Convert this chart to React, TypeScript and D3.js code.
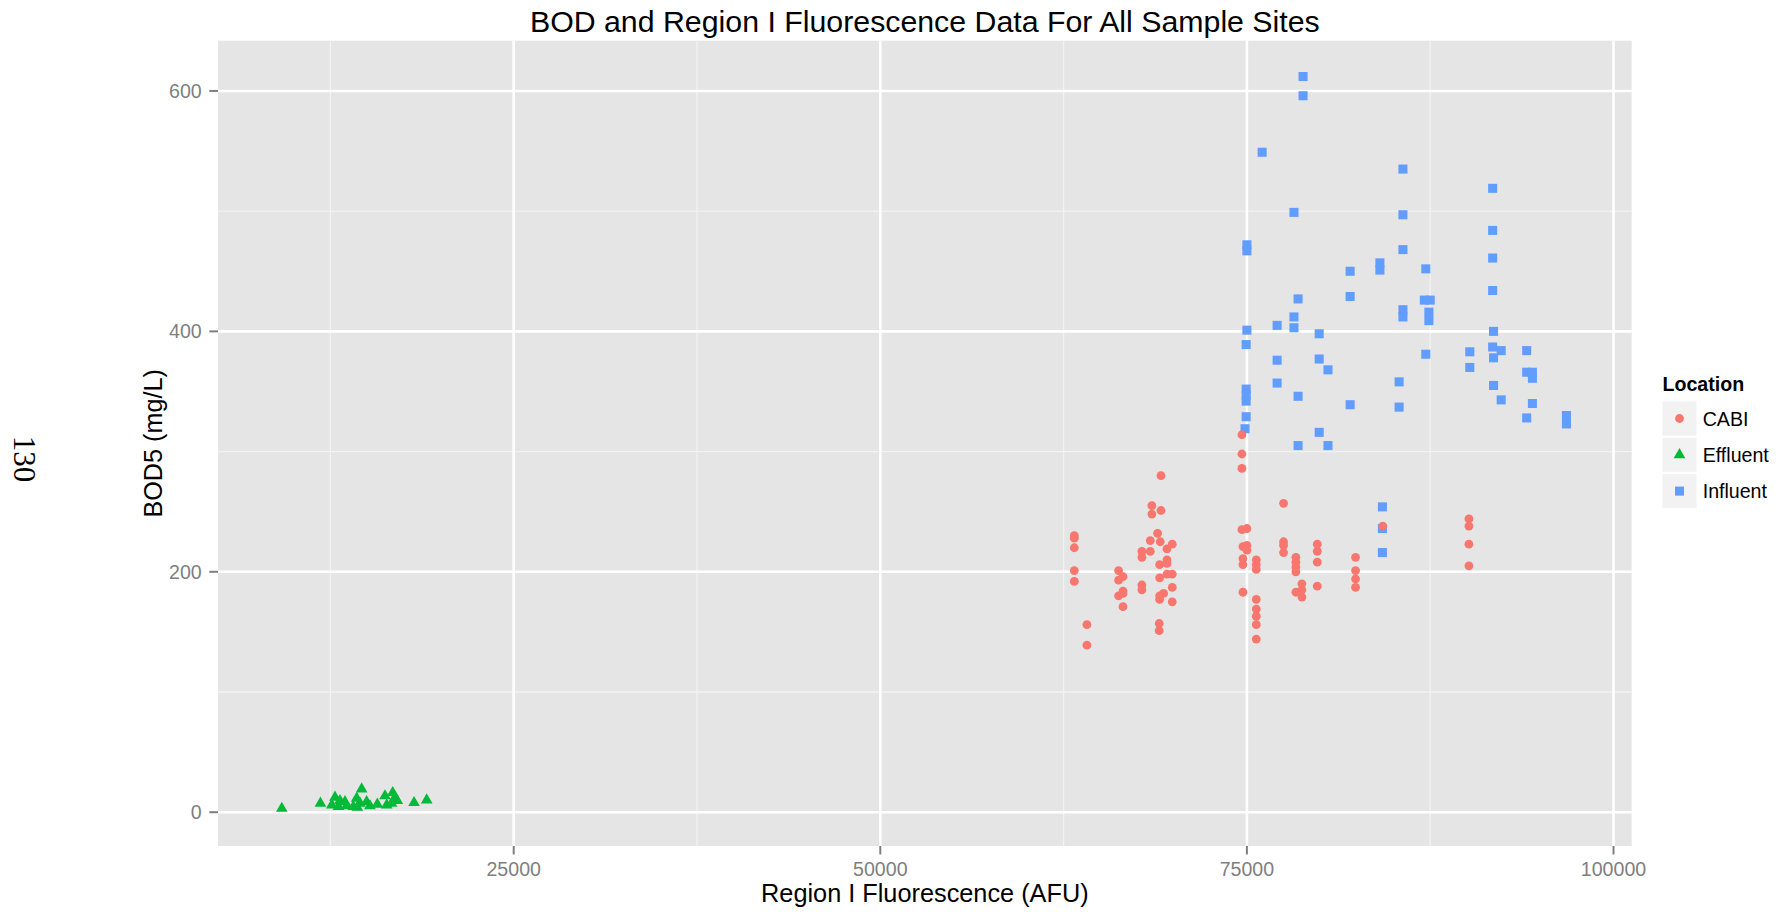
import * as d3 from "d3"

// BOD5 vs Region I fluorescence, one [AFU, mg/L] pair per sample
const influent: [number, number][] = [
    [78830, 612], [78830, 596], [76040, 549], [85640, 535], [91760, 519], [78210, 499],
    [85640, 497], [91760, 484], [75000, 472], [75000, 467], [85640, 468], [91760, 461],
    [82040, 450], [84070, 457], [84070, 451], [87200, 452], [91760, 434], [78490, 427],
    [82040, 429], [87100, 426], [87500, 426], [85640, 418], [85640, 412], [87410, 416],
    [87410, 409], [75000, 401], [77060, 405], [78210, 412], [78210, 403], [79930, 398],
    [91820, 400], [74950, 389], [87200, 381], [90200, 383], [91760, 387], [92340, 384],
    [94080, 384], [91820, 378], [77060, 376], [79930, 377], [80530, 368], [90200, 370],
    [94080, 366], [94470, 366], [94470, 361], [77060, 357], [85380, 358], [91820, 355],
    [74950, 352], [74950, 347], [74950, 342], [78490, 346], [92340, 343], [94470, 340],
    [82040, 339], [85380, 337], [74950, 329], [94080, 328], [96790, 330], [96790, 323],
    [74870, 319], [79930, 316], [78490, 305], [80530, 305], [84240, 254], [84240, 236],
    [84240, 216],
]

const cabi: [number, number][] = [
    [74660, 314], [74660, 298], [74660, 286], [69140, 280], [77500, 257], [68520, 255],
    [68520, 248], [69140, 251], [90140, 244], [90140, 238], [84270, 238], [63230, 230],
    [63230, 228], [63230, 220], [68910, 232], [74660, 235], [75000, 236], [68410, 226],
    [69090, 225], [69910, 223], [69550, 219], [67840, 217], [67840, 212], [68410, 217],
    [74730, 221], [75000, 222], [75000, 218], [90140, 223], [77500, 225], [77500, 222],
    [77500, 216], [79800, 223], [79800, 217], [79800, 208], [78340, 212], [78340, 208],
    [78340, 204], [78340, 200], [82410, 212], [82410, 201], [82410, 194], [82410, 187],
    [90140, 205], [74730, 211], [74730, 206], [75640, 210], [75640, 206], [75640, 202],
    [69550, 210], [69550, 207], [69050, 206], [63230, 201], [63230, 192], [66250, 201],
    [66250, 193], [66550, 196], [69550, 198], [69910, 198], [69050, 195], [67840, 189],
    [67840, 185], [69910, 187], [69910, 175], [66550, 184], [66550, 182], [66250, 180],
    [66550, 171], [69050, 180], [69050, 177], [69320, 182], [74730, 183], [78750, 190],
    [78750, 185], [78750, 179], [78340, 183], [79800, 188], [75640, 177], [75640, 169],
    [75640, 163], [75640, 156], [75640, 144], [69020, 157], [69020, 151], [64090, 156],
    [64090, 139],
]

const effluent: [number, number][] = [
    [9186, 3.2], [11818, 7.4], [12813, 12.4], [13154, 9.6], [13495, 8.7], [12596, 6.0],
    [13050, 4.6], [13609, 5.2], [14064, 4.6], [14291, 11.6], [14632, 19.3], [14518, 7.4],
    [14973, 8.7], [14336, 4.1], [15200, 5.2], [15700, 6.6], [16223, 13.5], [16750, 16.2],
    [16906, 12.4], [16680, 7.4], [17065, 9.6], [16340, 6.0], [18204, 7.9], [19068, 10.1],
]

const locations = ["CABI", "Effluent", "Influent"]
const locationColors = ["#F8766D", "#00BA38", "#619CFF"]

const xMajor = [25000, 50000, 75000, 100000]
const xMinor = [12500, 37500, 62500, 87500]
const yMajor = [0, 200, 400, 600]
const yMinor = [100, 300, 500]

const WIDTH = 1786
const HEIGHT = 912
const FONT = "'Liberation Sans', Arial, Helvetica, sans-serif"

export default function App() {
    const left = 218, right = 1631.7, top = 40.7, bottom = 846

    const x = d3.scaleLinear().domain([4835, 101241]).range([left, right])
    const y = d3.scaleLinear().domain([-28.1, 641.8]).range([bottom, top])

    const triangle = d3.symbol(d3.symbolTriangle, 59)()
    const square = d3.symbol(d3.symbolSquare, 82)()

    const tickColor = "#7F7F7F"
    const midX = (left + right) / 2
    const midY = (top + bottom) / 2

    // legend keys
    const keyX = 1662.5, keyY = 401.5, keySize = 34, keyStep = 36.3

    return (
        <svg width={WIDTH} height={HEIGHT} style={{ position: "absolute", left: 0, top: 0, display: "block" }}
            fontFamily={FONT}>
            <rect width={WIDTH} height={HEIGHT} fill="white" />

            {/* page number of the original document */}
            <text transform="translate(13.5,459) rotate(90)" textAnchor="middle"
                fontFamily="'Liberation Serif', 'Times New Roman', serif" fontSize={31}>130</text>

            <text x={midX} y={31.7} textAnchor="middle" fontSize={30.3}>
                BOD and Region I Fluorescence Data For All Sample Sites
            </text>

            {/* panel */}
            <rect x={left} y={top} width={right - left} height={bottom - top} fill="#E5E5E5" />
            <g stroke="#F2F2F2" strokeWidth={1.3}>
                {xMinor.map(v => <line key={'xm' + v} x1={x(v)} x2={x(v)} y1={top} y2={bottom} />)}
                {yMinor.map(v => <line key={'ym' + v} x1={left} x2={right} y1={y(v)} y2={y(v)} />)}
            </g>
            <g stroke="white" strokeWidth={2.6}>
                {xMajor.map(v => <line key={'xM' + v} x1={x(v)} x2={x(v)} y1={top} y2={bottom} />)}
                {yMajor.map(v => <line key={'yM' + v} x1={left} x2={right} y1={y(v)} y2={y(v)} />)}
            </g>

            {/* points */}
            <g fill={locationColors[2]}>
                {influent.map((d, i) => <path key={i} d={square} transform={`translate(${x(d[0])},${y(d[1])})`} />)}
            </g>
            <g fill={locationColors[0]}>
                {cabi.map((d, i) => <circle key={i} cx={x(d[0])} cy={y(d[1])} r={4.4} />)}
            </g>
            <g fill={locationColors[1]}>
                {effluent.map((d, i) => <path key={i} d={triangle} transform={`translate(${x(d[0])},${y(d[1])})`} />)}
            </g>

            {/* x axis */}
            <g>
                {xMajor.map(v => (
                    <g key={v} transform={`translate(${x(v)},0)`}>
                        <line y1={bottom} y2={bottom + 8.5} stroke={tickColor} strokeWidth={2} />
                        <text y={875.7} textAnchor="middle" fontSize={19.6} fill={tickColor}>{v}</text>
                    </g>
                ))}
            </g>
            <text x={midX} y={901.5} textAnchor="middle" fontSize={25.3}>Region I Fluorescence (AFU)</text>

            {/* y axis */}
            <g>
                {yMajor.map(v => (
                    <g key={v} transform={`translate(0,${y(v)})`}>
                        <line x1={left - 8.7} x2={left} stroke={tickColor} strokeWidth={2} />
                        <text x={201.7} y={7} textAnchor="end" fontSize={19.6} fill={tickColor}>{v}</text>
                    </g>
                ))}
            </g>
            <text transform={`translate(162.3,${midY}) rotate(-90)`} textAnchor="middle" fontSize={25.2}>BOD5 (mg/L)</text>

            {/* legend */}
            <text x={keyX} y={390.7} fontSize={19.6} fontWeight="bold">Location</text>
            {locations.map((name, i) => {
                const cy = keyY + i * keyStep + keySize / 2
                const cx = keyX + keySize / 2
                return (
                    <g key={name}>
                        <rect x={keyX} y={keyY + i * keyStep} width={keySize} height={keySize} fill="#F2F2F2" />
                        {i === 0 && <circle cx={cx} cy={cy} r={4.4} fill={locationColors[0]} />}
                        {i === 1 && <path d={triangle} transform={`translate(${cx},${cy})`} fill={locationColors[1]} />}
                        {i === 2 && <path d={square} transform={`translate(${cx},${cy})`} fill={locationColors[2]} />}
                        <text x={1702.7} y={cy + 7} fontSize={19.6}>{name}</text>
                    </g>
                )
            })}
        </svg>
    )
}
